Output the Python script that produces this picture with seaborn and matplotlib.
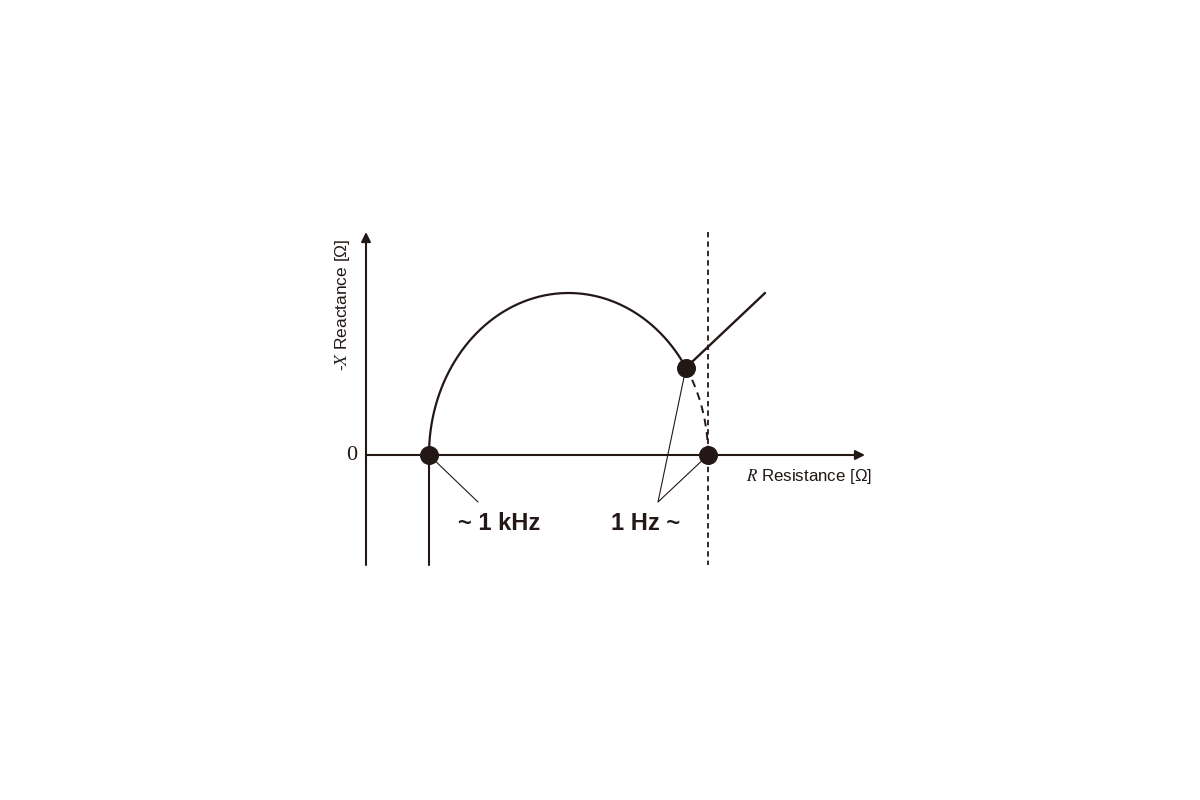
import numpy as np
import pandas as pd
import matplotlib.pyplot as plt
import seaborn as sns

# Nyquist sketch, units of 10 px, origin where the axes cross
r_high = 6.3          # ~1 kHz intercept
r_low = 34.2          # 1 Hz intercept
arc_peak = 16.2       # top of the semicircle
warburg_start = [32.0, 8.74]
warburg_end = [39.9, 16.2]
axis_x_end = 49.9
axis_y_top = 22.3
axis_y_bottom = -11.0
leader_kHz = [11.2, -4.7]
leader_Hz = [29.2, -4.7]
labels = ["~ 1 kHz", "1 Hz ~"]
label_x = [13.35, 28.0]
label_y = -6.8

ink = "#231815"

sns.set_style("white")
plt.rcParams["mathtext.fontset"] = "stix"
plt.rcParams["font.family"] = ["Liberation Sans", "DejaVu Sans"]

fig = plt.figure(figsize=(12, 8), dpi=100)
ax = fig.add_axes([0, 0, 1, 1])
ax.set_xlim(-36.6, 83.4)
ax.set_ylim(-34.5, 45.5)
ax.axis("off")

# semicircle (solid part up to the Warburg point, dashed after)
cx = (r_high + r_low) / 2
a = (r_low - r_high) / 2
t_split = np.arccos((warburg_start[0] - cx) / a)
t_solid = np.linspace(np.pi, t_split, 200)
t_dash = np.linspace(t_split, 0, 50)
arc = pd.DataFrame({"R": cx + a * np.cos(t_solid), "X": arc_peak * np.sin(t_solid)})
arc_d = pd.DataFrame({"R": cx + a * np.cos(t_dash), "X": arc_peak * np.sin(t_dash)})
sns.lineplot(data=arc, x="R", y="X", sort=False, color=ink, lw=1.6, ax=ax)
ax.plot(arc_d["R"], arc_d["X"], color=ink, lw=1.4, dashes=(4, 3))

# Warburg tail
ax.plot([warburg_start[0], warburg_end[0]], [warburg_start[1], warburg_end[1]],
        color=ink, lw=1.7)

# axes with arrows
ax.annotate("", xy=(axis_x_end, 0), xytext=(0, 0),
            arrowprops=dict(arrowstyle="-|>", color=ink, lw=1.5, mutation_scale=14,
                            shrinkA=0, shrinkB=0))
ax.annotate("", xy=(0, axis_y_top), xytext=(0, axis_y_bottom),
            arrowprops=dict(arrowstyle="-|>", color=ink, lw=1.5, mutation_scale=14,
                            shrinkA=0, shrinkB=0))
ax.plot([r_high, r_high], [0, axis_y_bottom], color=ink, lw=1.5)
ax.plot([r_low, r_low], [axis_y_top, axis_y_bottom], color=ink, lw=1.3, dashes=(3, 2.2))

# leader lines
ax.plot([r_high, leader_kHz[0]], [0, leader_kHz[1]], color=ink, lw=0.8)
ax.plot([warburg_start[0], leader_Hz[0], r_low], [warburg_start[1], leader_Hz[1], 0],
        color=ink, lw=0.8)

# points
pts = pd.DataFrame({"R": [r_high, r_low, warburg_start[0]], "X": [0, 0, warburg_start[1]]})
sns.scatterplot(data=pts, x="R", y="X", s=160, color=ink, edgecolor=ink, zorder=5, ax=ax)

for lab, lx in zip(labels, label_x):
    ax.text(lx, label_y, lab, fontsize=17, fontweight="bold", color=ink,
            ha="center", va="center")

ax.text(-1.4, 0, "0", fontsize=16, family="Liberation Serif", color=ink,
        ha="center", va="center")
ax.text(44.3, -2.1, "$R$ Resistance [Ω]", fontsize=12.2, color=ink,
        ha="center", va="center")
ax.text(-2.3, 15.0, "-$X$ Reactance [Ω]", fontsize=12.5, color=ink, rotation=90,
        ha="center", va="center")

fig.savefig("out.png", dpi=100)
